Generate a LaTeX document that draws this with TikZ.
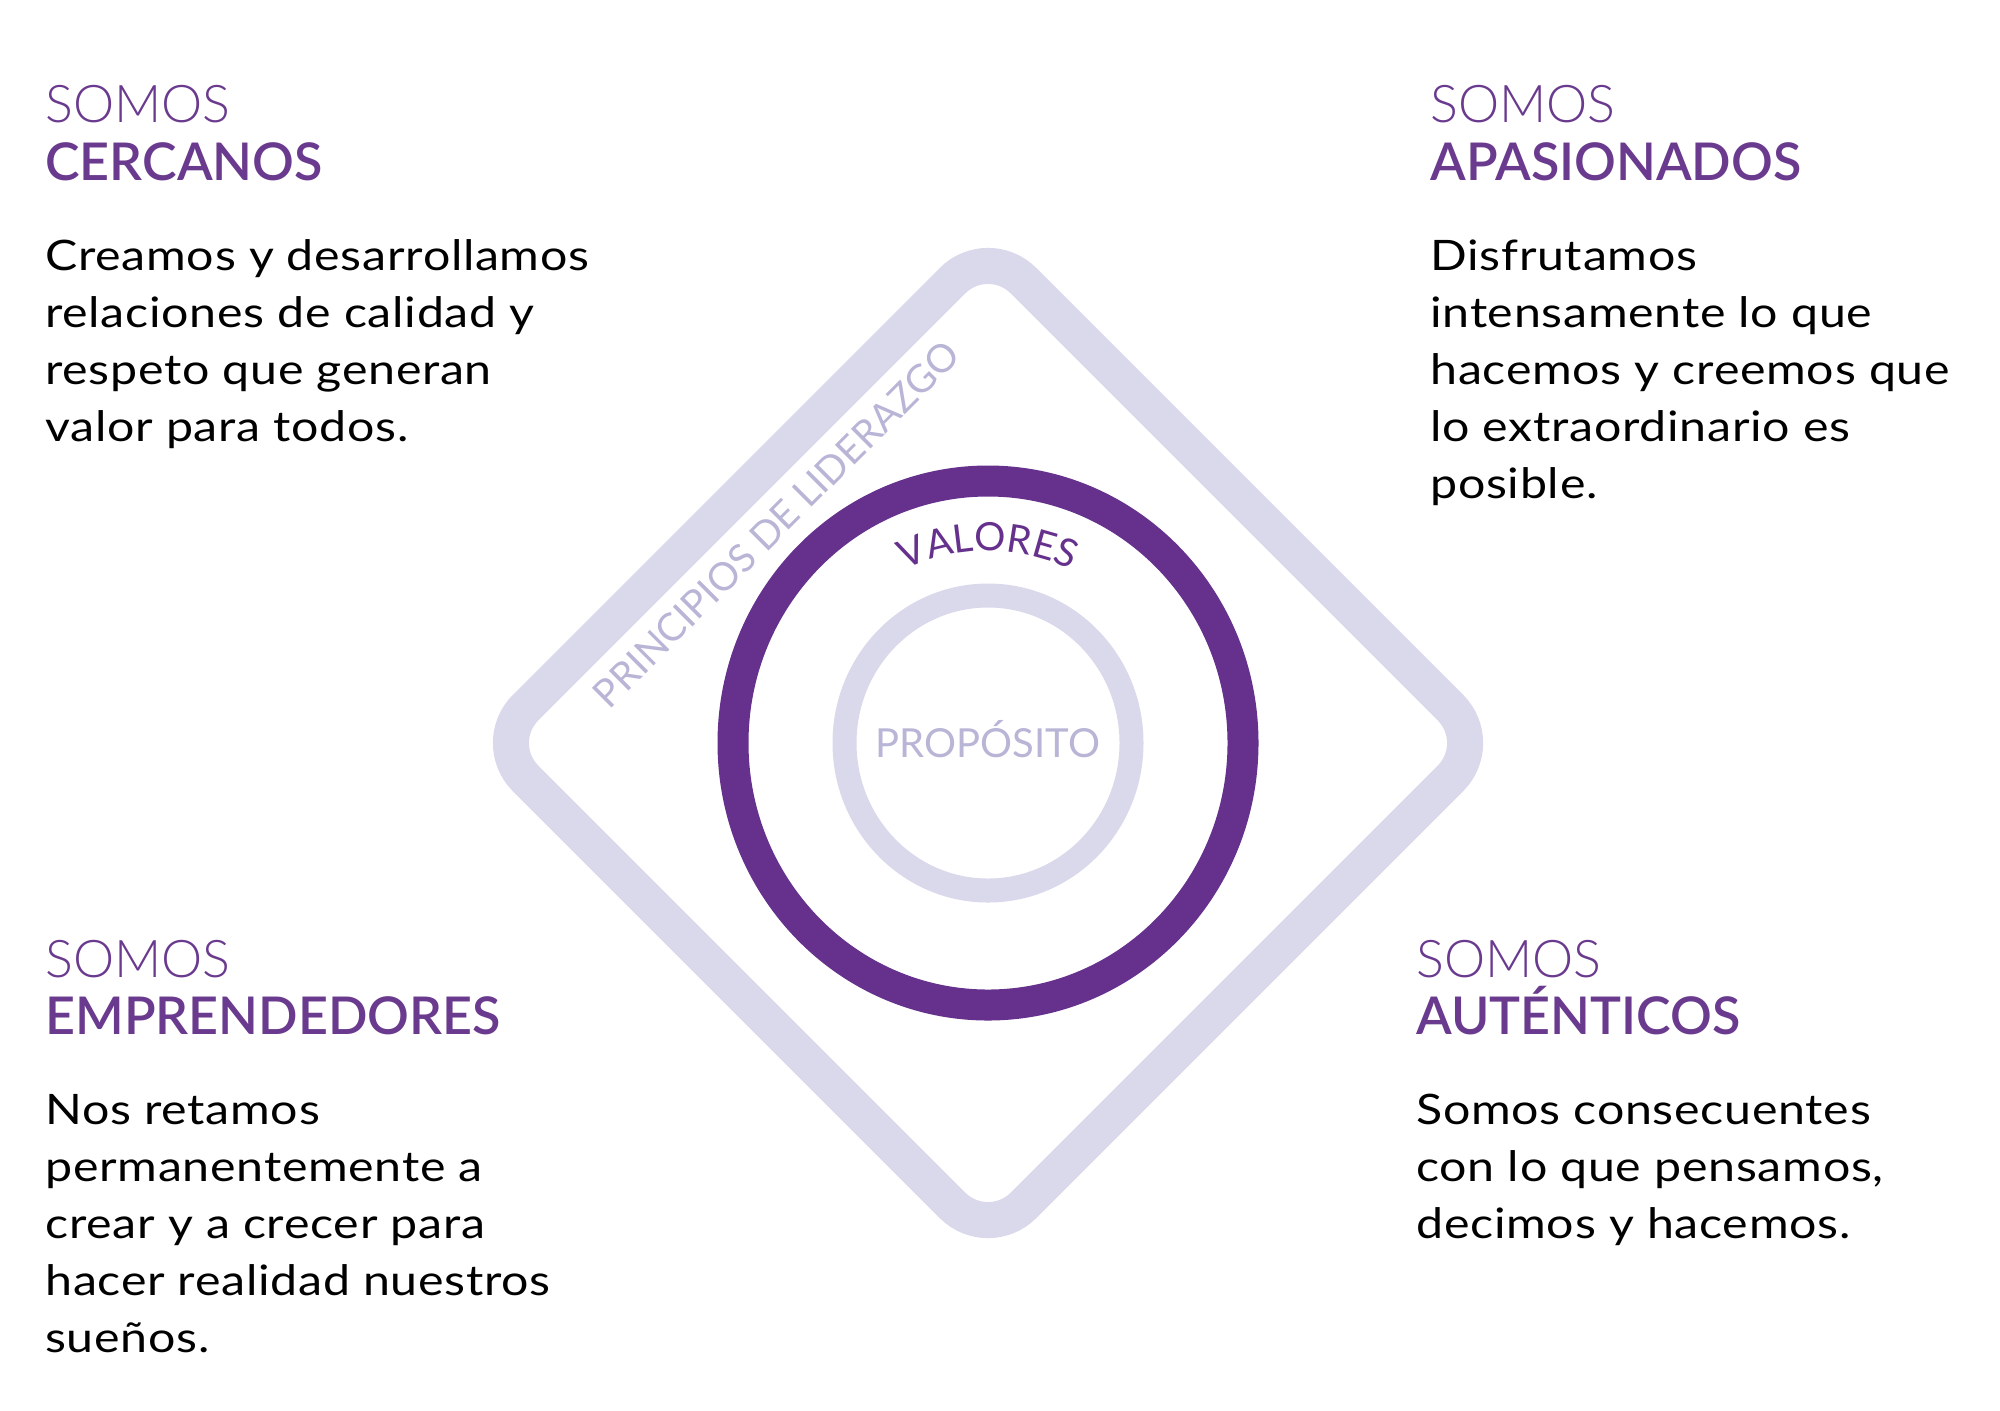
\documentclass[tikz,border=0pt]{standalone}
\usepackage{fontspec}
\setmainfont{Lato}
\newfontfamily\latolight{Lato Light}
\newfontfamily\latosemi{Lato Semibold}
\newfontfamily\latowide{Lato}[FakeStretch=1.15, LetterSpace=1.7]
\usetikzlibrary{decorations.text}
\definecolor{vpurple}{RGB}{101,49,140}
\definecolor{hpurple}{RGB}{106,58,142}
\definecolor{lav}{RGB}{218,216,235}
\definecolor{lavtext}{RGB}{184,181,214}
\begin{document}
\begin{tikzpicture}[x=0.5pt,y=0.5pt,
  body/.style={anchor=base west, inner sep=0pt, text=black, font=\latowide\fontsize{21}{21}\selectfont},
  hlight/.style={anchor=base west, inner sep=0pt, text=hpurple, font=\latolight\fontsize{26}{26}\selectfont},
  hbold/.style={anchor=base west, inner sep=0pt, text=hpurple, font=\latosemi\fontsize{26}{26}\selectfont}]
\useasboundingbox (0,0) rectangle (2000,-1410);
\fill[white] (0,0) rectangle (2000,-1410);
% diamond
\begin{scope}[shift={(988,-743)}, rotate=45]
  \draw[lav, line width=18pt, rounded corners=25pt] (-352,-352) rectangle (352,352);
\end{scope}
% rings
\coordinate (c) at (988,-743);
\draw[vpurple, line width=15.5pt] (c) ellipse [x radius=255, y radius=262];
\draw[lav, line width=12pt] (c) ellipse [x radius=143.5, y radius=147.5];
\node[anchor=base, inner sep=0pt, text=lavtext, font=\fontsize{20}{20}\selectfont] (prop) at (988,-757) {PROPÓSITO};
\path[decorate, decoration={text along path, text align=center,
  text={|\fontsize{19.5}{19.5}\selectfont\color{vpurple}|VALORES}}]
  (c) ++(124:192) arc[start angle=124, end angle=56, radius=192];
\node[rotate=45, inner sep=0pt, text=lavtext, font=\fontsize{19.4}{19.4}\selectfont] (princ) at (776,-524) {PRINCIPIOS DE LIDERAZGO};
% top left
\node[hlight] (tlh1) at (45,-122.7) {SOMOS};
\node[hbold] (tlh2) at (45,-180) {CERCANOS};
\node[body] (tl1) at (45,-270) {Creamos y desarrollamos};
\node[body] (tl2) at (45,-327) {relaciones de calidad y};
\node[body] (tl3) at (45,-384) {respeto que generan};
\node[body] (tl4) at (45,-441) {valor para todos.};
% top right
\node[hlight] (trh1) at (1430,-122.7) {SOMOS};
\node[hbold] (trh2) at (1430,-180) {APASIONADOS};
\node[body] (tr1) at (1430,-270) {Disfrutamos};
\node[body] (tr2) at (1430,-327) {intensamente lo que};
\node[body] (tr3) at (1430,-384) {hacemos y creemos que};
\node[body] (tr4) at (1430,-441) {lo extraordinario es};
\node[body] (tr5) at (1430,-498) {posible.};
% bottom left
\node[hlight] (blh1) at (45,-977) {SOMOS};
\node[hbold] (blh2) at (45,-1034) {EMPRENDEDORES};
\node[body] (bl1) at (45,-1124) {Nos retamos};
\node[body] (bl2) at (45,-1181) {permanentemente a};
\node[body] (bl3) at (45,-1238) {crear y a crecer para};
\node[body] (bl4) at (45,-1295) {hacer realidad nuestros};
\node[body] (bl5) at (45,-1352) {sueños.};
% bottom right
\node[hlight] (brh1) at (1416,-977) {SOMOS};
\node[hbold] (brh2) at (1416,-1034) {AUTÉNTICOS};
\node[body] (br1) at (1416,-1124) {Somos consecuentes};
\node[body] (br2) at (1416,-1181) {con lo que pensamos,};
\node[body] (br3) at (1416,-1238) {decimos y hacemos.};
\end{tikzpicture}
\end{document}
